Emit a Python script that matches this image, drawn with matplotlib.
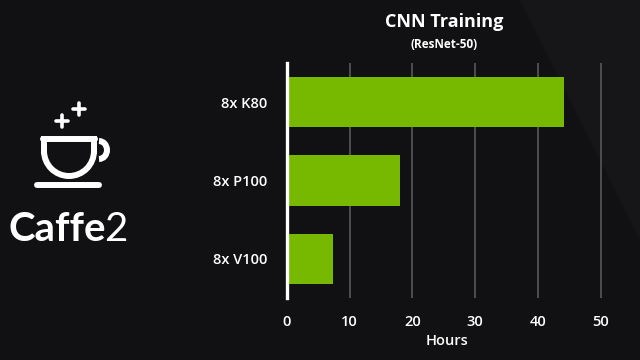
import matplotlib
matplotlib.use("Agg")
import matplotlib.pyplot as plt
from matplotlib.patches import Arc, Polygon

# data
gpus = ["8x K80", "8x P100", "8x V100"]
hours = [44.1, 18.0, 7.3]
x_ticks = [0, 10, 20, 30, 40, 50]

bg = "#111113"
green = "#76b900"
plt.rcParams["font.family"] = ["Open Sans", "DejaVu Sans"]

fig = plt.figure(figsize=(6.4, 3.6), dpi=100)
fig.patch.set_facecolor(bg)

# overlay in pixel coordinates for background and logo
bgax = fig.add_axes([0, 0, 1, 1])
bgax.set_xlim(0, 640)
bgax.set_ylim(360, 0)
bgax.axis("off")
bgax.add_patch(Polygon([(520, 0), (640, 0), (640, 240)], closed=True,
                       color="#161618", lw=0))

# coffee cup logo
w = "white"
lw = 4.3
bgax.plot([43, 95], [139, 139], color=w, lw=lw, solid_capstyle="round")
bgax.plot([44, 44], [139, 151], color=w, lw=lw)
bgax.plot([94, 94], [139, 151], color=w, lw=lw)
bgax.add_patch(Arc((69, 151), 50, 50, theta1=0, theta2=180, color=w, lw=lw))
bgax.add_patch(Arc((99, 150), 16, 18, theta1=-90, theta2=90, color=w, lw=lw))
bgax.plot([37, 99], [185, 185], color=w, lw=lw, solid_capstyle="round")
for cx, cy in [(62, 121), (79, 109)]:
    bgax.plot([cx - 6, cx + 6], [cy, cy], color=w, lw=2.6, solid_capstyle="round")
    bgax.plot([cx, cx], [cy - 6, cy + 6], color=w, lw=2.6, solid_capstyle="round")
fig.text(8 / 640, 1 - 241 / 360, "Caffe", color=w, fontsize=29,
         fontweight="bold", ha="left", va="baseline", family=["Lato", "DejaVu Sans"])
fig.text(104 / 640, 1 - 241 / 360, "2", color=w, fontsize=29,
         ha="left", va="baseline", family=["Lato", "DejaVu Sans"])

# chart
ax = fig.add_axes([287 / 640, 1 - 298 / 360, 320 / 640, 235 / 360])
ax.set_facecolor("none")
ypos = list(range(len(gpus)))
ax.barh(ypos, hours, height=0.64, color=green, zorder=3)
ax.set_ylim(len(gpus) - 0.5, -0.5)
ax.set_xlim(0, 51)
ax.set_xticks(x_ticks)
ax.set_yticks(ypos)
ax.set_yticklabels(gpus)
ax.xaxis.grid(True, color="#58585a", lw=1.2, zorder=0)
for s in ["top", "right", "bottom"]:
    ax.spines[s].set_visible(False)
ax.spines["left"].set_color("white")
ax.spines["left"].set_linewidth(2.4)
ax.spines["left"].set_zorder(4)
ax.tick_params(axis="both", length=0, colors="white", labelsize=10.5)
ax.tick_params(axis="y", pad=14)
ax.tick_params(axis="x", pad=12)
for lab in ax.get_xticklabels() + ax.get_yticklabels():
    lab.set_fontweight("semibold")
ax.set_xlabel("Hours", color="white", fontsize=10.5, fontweight="semibold", labelpad=4)

fig.text(444 / 640, 1 - 22 / 360, "CNN Training", color="white", fontsize=13,
         fontweight="bold", ha="center", va="center")
fig.text(444 / 640, 1 - 44 / 360, "(ResNet-50)", color="white", fontsize=8.5,
         fontweight="bold", ha="center", va="center")

fig.savefig("out.png", dpi=100, facecolor=fig.get_facecolor())
